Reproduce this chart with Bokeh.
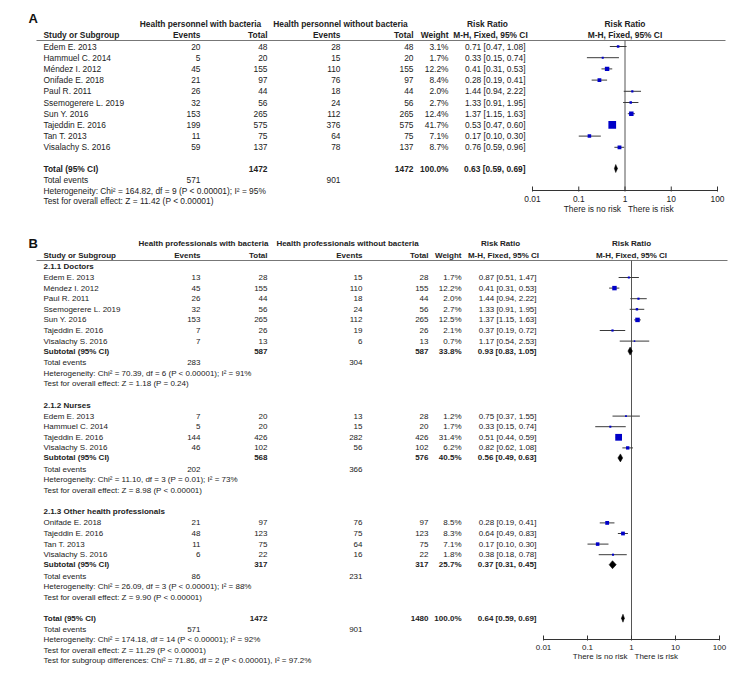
from bokeh.plotting import figure
from bokeh.models import Range1d, LogScale, ColumnDataSource
from bokeh.embed import file_html
from bokeh.resources import INLINE
from bokeh.core.properties import value

# ---------------- DATA ----------------
# Panel A
A_study = ["Edem E. 2013", "Hammuel C. 2014", "Méndez I. 2012", "Onifade E. 2018", "Paul R. 2011",
           "Ssemogerere L. 2019", "Sun Y. 2016", "Tajeddin E. 2016", "Tan T. 2013", "Visalachy S. 2016"]
A_ev1 = [20, 5, 45, 21, 26, 32, 153, 199, 11, 59]
A_n1 = [48, 20, 155, 97, 44, 56, 265, 575, 75, 137]
A_ev2 = [28, 15, 110, 76, 18, 24, 112, 376, 64, 78]
A_n2 = [48, 20, 155, 97, 44, 56, 265, 575, 75, 137]
A_w = [3.1, 1.7, 12.2, 8.4, 2.0, 2.7, 12.4, 41.7, 7.1, 8.7]
A_rr = [0.71, 0.33, 0.41, 0.28, 1.44, 1.33, 1.37, 0.53, 0.17, 0.76]
A_lo = [0.47, 0.15, 0.31, 0.19, 0.94, 0.91, 1.15, 0.47, 0.10, 0.59]
A_hi = [1.08, 0.74, 0.53, 0.41, 2.22, 1.95, 1.63, 0.60, 0.30, 0.96]
A_tot = dict(n1=1472, n2=1472, w=100.0, rr=0.63, lo=0.59, hi=0.69, ev1=571, ev2=901,
             het="Heterogeneity: Chi² = 164.82, df = 9 (P < 0.00001); I² = 95%",
             test="Test for overall effect: Z = 11.42 (P < 0.00001)")

# Panel B
B_groups = ["2.1.1 Doctors", "2.1.2 Nurses", "2.1.3 Other health professionals"]
B_study = [
    ["Edem E. 2013", "Méndez I. 2012", "Paul R. 2011", "Ssemogerere L. 2019", "Sun Y. 2016",
     "Tajeddin E. 2016", "Visalachy S. 2016"],
    ["Edem E. 2013", "Hammuel C. 2014", "Tajeddin E. 2016", "Visalachy S. 2016"],
    ["Onifade E. 2018", "Tajeddin E. 2016", "Tan T. 2013", "Visalachy S. 2016"],
]
B_ev1 = [[13, 45, 26, 32, 153, 7, 7], [7, 5, 144, 46], [21, 48, 11, 6]]
B_n1 = [[28, 155, 44, 56, 265, 26, 13], [20, 20, 426, 102], [97, 123, 75, 22]]
B_ev2 = [[15, 110, 18, 24, 112, 19, 6], [13, 15, 282, 56], [76, 75, 64, 16]]
B_n2 = [[28, 155, 44, 56, 265, 26, 13], [28, 20, 426, 102], [97, 123, 75, 22]]
B_w = [[1.7, 12.2, 2.0, 2.7, 12.5, 2.1, 0.7], [1.2, 1.7, 31.4, 6.2], [8.5, 8.3, 7.1, 1.8]]
B_rr = [[0.87, 0.41, 1.44, 1.33, 1.37, 0.37, 1.17], [0.75, 0.33, 0.51, 0.82], [0.28, 0.64, 0.17, 0.38]]
B_lo = [[0.51, 0.31, 0.94, 0.91, 1.15, 0.19, 0.54], [0.37, 0.15, 0.44, 0.62], [0.19, 0.49, 0.10, 0.18]]
B_hi = [[1.47, 0.53, 2.22, 1.95, 1.63, 0.72, 2.53], [1.55, 0.74, 0.59, 1.08], [0.41, 0.83, 0.30, 0.78]]
B_sub_n1 = [587, 568, 317]
B_sub_n2 = [587, 576, 317]
B_sub_w = [33.8, 40.5, 25.7]
B_sub_rr = [0.93, 0.56, 0.37]
B_sub_lo = [0.83, 0.49, 0.31]
B_sub_hi = [1.05, 0.63, 0.45]
B_sub_ev1 = [283, 202, 86]
B_sub_ev2 = [304, 366, 231]
B_sub_het = ["Heterogeneity: Chi² = 70.39, df = 6 (P < 0.00001); I² = 91%",
             "Heterogeneity: Chi² = 11.10, df = 3 (P = 0.01); I² = 73%",
             "Heterogeneity: Chi² = 26.09, df = 3 (P < 0.00001); I² = 88%"]
B_sub_test = ["Test for overall effect: Z = 1.18 (P = 0.24)",
              "Test for overall effect: Z = 8.98 (P < 0.00001)",
              "Test for overall effect: Z = 9.90 (P < 0.00001)"]
B_tot = dict(n1=1472, n2=1480, w=100.0, rr=0.64, lo=0.59, hi=0.69, ev1=571, ev2=901,
             het="Heterogeneity: Chi² = 174.18, df = 14 (P < 0.00001); I² = 92%",
             test="Test for overall effect: Z = 11.29 (P < 0.00001)",
             sub="Test for subgroup differences: Chi² = 71.86, df = 2 (P < 0.00001), I² = 97.2%")

tick_vals = [0.01, 0.1, 1, 10, 100]
tick_labels = ["0.01", "0.1", "1", "10", "100"]
favours = ["There is no risk", "There is risk"]

# ---------------- FIGURE ----------------
W, H = 734, 673
p = figure(width=W, height=H, output_backend="svg", toolbar_location=None,
           x_range=Range1d(0, W), y_range=Range1d(H, 0),
           x_axis_location=None, y_axis_location=None, min_border=0)
p.grid.visible = False
p.outline_line_color = None
p.background_fill_color = "white"


def log_range(x001, x100):
    dec = (x100 - x001) / 4.0
    lo = -2 - x001 / dec
    hi = 2 + (W - x100) / dec
    return Range1d(10 ** lo, 10 ** hi)


p.extra_x_ranges = {"fa": log_range(532, 717), "fb": log_range(543, 719)}
p.extra_x_scales = {"fa": LogScale(), "fb": LogScale()}

FONT = "Liberation Sans"
TXT = dict(x=[], y=[], text=[], align=[], style=[], size=[])
CUR = {"fs": "8.4px"}


def put(x, y, s, align="left", bold=False):
    TXT["x"].append(x)
    TXT["y"].append(y)
    TXT["text"].append(str(s))
    TXT["align"].append(align)
    TXT["style"].append("bold" if bold else "normal")
    TXT["size"].append(CUR["fs"])


def ci(rr, lo, hi):
    return f"{rr:.2f} [{lo:.2f}, {hi:.2f}]"


STUDIES = {"fa": dict(y=[], rr=[], lo=[], hi=[], s=[]), "fb": dict(y=[], rr=[], lo=[], hi=[], s=[])}
DIAM = {"fa": dict(xs=[], ys=[]), "fb": dict(xs=[], ys=[])}


def study_row(key, y, cols, name, e1, n1, e2, n2, w, rr, lo, hi):
    put(43, y, name)
    put(cols[0], y, e1, "right")
    put(cols[1], y, n1, "right")
    put(cols[2], y, e2, "right")
    put(cols[3], y, n2, "right")
    put(cols[4], y, f"{w:.1f}%", "right")
    put(cols[5], y, ci(rr, lo, hi), "right")
    d = STUDIES[key]
    d["y"].append(y); d["rr"].append(rr); d["lo"].append(lo); d["hi"].append(hi)
    d["s"].append(1.1 * w ** 0.5 + 0.6)


def pooled_row(key, y, cols, label, n1, n2, w, rr, lo, hi):
    put(43, y, label, bold=True)
    put(cols[1], y, n1, "right", True)
    put(cols[3], y, n2, "right", True)
    put(cols[4], y, f"{w:.1f}%", "right", True)
    put(cols[5], y, ci(rr, lo, hi), "right", True)
    hh = 4.0
    DIAM[key]["xs"].append([lo, rr, hi, rr])
    DIAM[key]["ys"].append([y, y - hh, y, y + hh])


def header(y1, y2, line_y, line_x1, cols, g1, g2, c1, c2, rr_c, fp_c, letter, letter_y):
    p.text(x=[28], y=[letter_y], text=[letter], text_font=value(FONT), text_font_size="13px",
           text_font_style="bold", text_baseline="middle", text_align="left", text_color="#111111")
    put(c1, y1, g1, "center", True)
    put(c2, y1, g2, "center", True)
    put(rr_c, y1, "Risk Ratio", "center", True)
    put(fp_c, y1, "Risk Ratio", "center", True)
    put(43, y2, "Study or Subgroup", bold=True)
    put(cols[0], y2, "Events", "right", True)
    put(cols[1], y2, "Total", "right", True)
    put(cols[2], y2, "Events", "right", True)
    put(cols[3], y2, "Total", "right", True)
    put(cols[4], y2, "Weight", "right", True)
    put(rr_c + 3, y2, "M-H, Fixed, 95% CI", "center", True)
    put(fp_c, y2, "M-H, Fixed, 95% CI", "center", True)
    p.segment(x0=[36], x1=[line_x1], y0=[line_y], y1=[line_y], line_color="#777777", line_width=1)


def axis(key, y_axis, y_top, fs, y_fav):
    p.segment(x0=[1], x1=[1], y0=[y_top], y1=[y_axis], line_color="#555555", line_width=1,
              x_range_name=key)
    p.segment(x0=[tick_vals[0]], x1=[tick_vals[-1]], y0=[y_axis], y1=[y_axis],
              line_color="#333333", line_width=1, x_range_name=key)
    p.segment(x0=tick_vals, x1=tick_vals, y0=[y_axis - 4] * len(tick_vals), y1=[y_axis + 1] * len(tick_vals),
              line_color="#333333", line_width=1, x_range_name=key)
    p.text(x=tick_vals, y=[y_axis + 8] * len(tick_vals), text=tick_labels, x_range_name=key,
           text_font=value(FONT), text_font_size=fs, text_align="center", text_baseline="middle",
           text_color="#222222")
    p.text(x=[1, 1], y=[y_fav, y_fav], text=favours, x_offset=[-4, 3], x_range_name=key,
           text_font=value(FONT), text_font_size=fs, text_align=["right", "left"], text_baseline="middle",
           text_color="#222222")


# ---------------- PANEL A ----------------
CUR["fs"] = "8.4px"
colsA = [200, 267, 340, 413, 448, 525]
header(23, 34, 40, 725, colsA, "Health personnel with bacteria", "Health personnel without bacteria",
       200, 340, 487, 624.5, "A", 18)
y = 46.0
for i in range(len(A_study)):
    study_row("fa", y, colsA, A_study[i], A_ev1[i], A_n1[i], A_ev2[i], A_n2[i], A_w[i], A_rr[i], A_lo[i], A_hi[i])
    y += 11.2
yt = 168
pooled_row("fa", yt, colsA, "Total (95% CI)", A_tot["n1"], A_tot["n2"], A_tot["w"], A_tot["rr"], A_tot["lo"], A_tot["hi"])
put(43, yt + 11.5, "Total events")
put(colsA[0], yt + 11.5, A_tot["ev1"], "right")
put(colsA[2], yt + 11.5, A_tot["ev2"], "right")
put(43, yt + 22, A_tot["het"])
put(43, yt + 32.5, A_tot["test"])
axis("fa", 190, 40, "8.4px", 208)

# ---------------- PANEL B ----------------
CUR["fs"] = "8px"
colsB = [200, 267, 362, 428, 461, 536]
header(243, 254.5, 260, 727, colsB, "Health professionals with bacteria", "Health professionals without bacteria",
       203, 347, 500, 631, "B", 243)
y = 266.0
for g in range(len(B_groups)):
    put(43, y, B_groups[g], bold=True)
    y += 11
    for i in range(len(B_study[g])):
        study_row("fb", y, colsB, B_study[g][i], B_ev1[g][i], B_n1[g][i], B_ev2[g][i], B_n2[g][i],
                  B_w[g][i], B_rr[g][i], B_lo[g][i], B_hi[g][i])
        y += 10.6
    ys = y - 10.6 + 10
    pooled_row("fb", ys, colsB, "Subtotal (95% CI)", B_sub_n1[g], B_sub_n2[g], B_sub_w[g],
               B_sub_rr[g], B_sub_lo[g], B_sub_hi[g])
    put(43, ys + 11.5, "Total events")
    put(colsB[0], ys + 11.5, B_sub_ev1[g], "right")
    put(colsB[2], ys + 11.5, B_sub_ev2[g], "right")
    put(43, ys + 22, B_sub_het[g])
    put(43, ys + 32.5, B_sub_test[g])
    y = ys + 32.5 + 21.5
yt = y - 0.5
pooled_row("fb", yt, colsB, "Total (95% CI)", B_tot["n1"], B_tot["n2"], B_tot["w"], B_tot["rr"], B_tot["lo"], B_tot["hi"])
put(43, yt + 11, "Total events")
put(colsB[0], yt + 11, B_tot["ev1"], "right")
put(colsB[2], yt + 11, B_tot["ev2"], "right")
put(43, yt + 21.5, B_tot["het"])
put(43, yt + 32, B_tot["test"])
put(43, yt + 42.5, B_tot["sub"])
axis("fb", 639, 260, "8px", 656)

# ---------------- forest marks ----------------
for key in ("fa", "fb"):
    d = STUDIES[key]
    src = ColumnDataSource(dict(y=d["y"], rr=d["rr"], lo=d["lo"], hi=d["hi"], s=d["s"]))
    p.segment(x0="lo", x1="hi", y0="y", y1="y", source=src, line_color="#3a3a3a", line_width=1,
              x_range_name=key)
    p.scatter(x="rr", y="y", size="s", marker="square", source=src, fill_color="#0000c8",
              line_color=None, x_range_name=key)
    p.patches(xs=DIAM[key]["xs"], ys=DIAM[key]["ys"], fill_color="black", line_color="black",
              line_width=0.5, x_range_name=key)

# ---------------- texts ----------------
tsrc = ColumnDataSource(TXT)
p.text(x="x", y="y", text="text", text_align="align", text_font_style="style", text_font_size="size",
       source=tsrc, text_font=value(FONT), text_baseline="middle", text_color="#222222")

open("out.html", "w").write(file_html(p, INLINE))
